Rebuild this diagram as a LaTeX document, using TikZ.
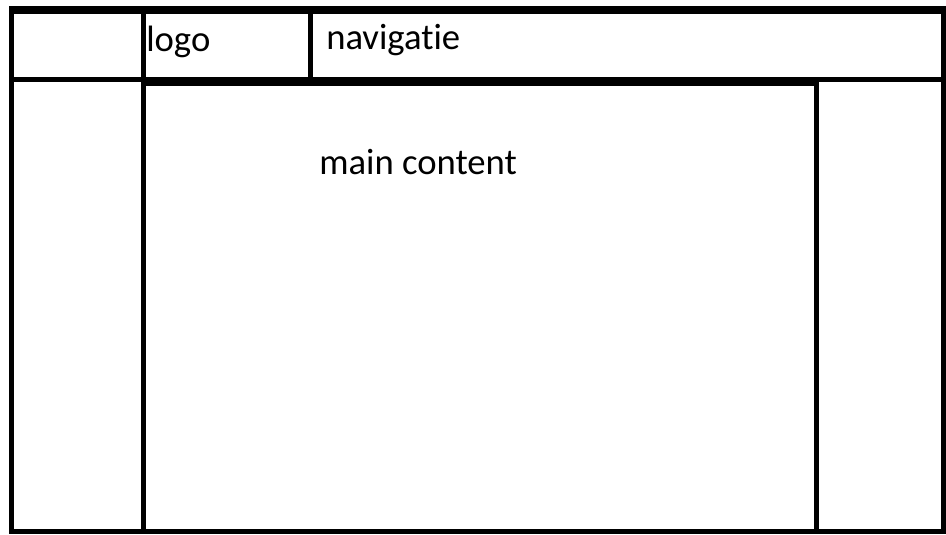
\documentclass[tikz,border=0pt]{standalone}
\usepackage{fontspec}
\setmainfont{Carlito}[Ligatures=NoCommon]
\tikzset{
  frame/.style={line width=3.75pt},
  label/.style={anchor=base west, inner sep=0pt, font=\fontsize{27.5}{31}\selectfont}
}
\begin{document}
\begin{tikzpicture}[x=0.75pt, y=-0.75pt]
        \useasboundingbox (0,0) rectangle (946,535);                 %
        \draw [frame]                 (11.5,10) rectangle (943.5,531.5);  %page
        \draw [line width=6pt]        (9,10) -- (946,10);          %top edge
        \draw [frame]                 (11.5,79.5) -- (943.5,79.5);  %header
        \draw [frame]                 (143,10) -- (143,531.5);      %left column
        \draw [frame]                 (310.5,10) -- (310.5,79.5);   %logo
        \draw [frame]                 (143,84) rectangle (816.5,531.5); %main
        \node [label] (logo) at (146,52)  {logo};                  %
        \node [label] (nav)  at (326,50)  {navigatie};             %
        \node [label] (main) at (319,174) {main content};          %
       \end{tikzpicture}
\end{document}
